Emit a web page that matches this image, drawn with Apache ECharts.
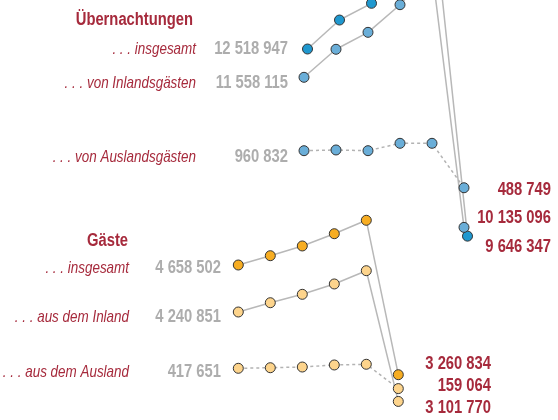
<!DOCTYPE html>
<html>
<head>
<meta charset="UTF-8">
<title>Übernachtungen und Gäste</title>
<script type="text/javascript" src="https://cdn.jsdelivr.net/npm/echarts@6/dist/echarts.min.js"></script>
<style>
  html, body { margin: 0; padding: 0; background: #fff; }
</style>
</head>
<body>
<div id="main" style="width: 558px; height: 420px"></div>
<script type="text/javascript">
// Daten
var years = ['2015', '2016', '2017', '2018', '2019', '2020'];
var uebInsgesamt = [12518947, 12888000, 13101000, 13538000, 13984000, 10135096];
var uebInland = [11558115, 11915000, 12131000, 12483000, 12929000, 9646347];
var uebAusland = [960832, 970000, 961000, 1055000, 1055000, 488749];
var gaesteInsgesamt = [4658502, 4777000, 4901000, 5057000, 5228000, 3260834];
var gaesteInland = [4240851, 4359000, 4466000, 4598000, 4767000, 3101770];
var gaesteAusland = [417651, 425000, 434000, 460000, 469000, 159064];

var groupTitles = ['Übernachtungen', 'Gäste'];
var uebNames = ['. . . insgesamt', '. . . von Inlandsgästen', '. . . von Auslandsgästen'];
var gaesteNames = ['. . . insgesamt', '. . . aus dem Inland', '. . . aus dem Ausland'];

// Layout: jede Linie hat ihr eigenes Raster, gleicher Maßstab, anderer Versatz
var PX_PER_MIO = 78.5;
var H = 420;
var FONT = "'Liberation Sans', Arial, sans-serif";
var RED = '#a62a3c';
var GRAY = '#adadad';

var lines = [
  {data: uebInsgesamt, left: 307.5, y0: 49, color: '#1f98cf', dashed: false},
  {data: uebInland, left: 304, y0: 77.3, color: '#6aaed8', dashed: false},
  {data: uebAusland, left: 304, y0: 150.7, color: '#6aaed8', dashed: true},
  {data: gaesteInsgesamt, left: 238.3, y0: 265, color: '#f7ad22', dashed: false},
  {data: gaesteInland, left: 238.3, y0: 312, color: '#fdd48c', dashed: false},
  {data: gaesteAusland, left: 238.3, y0: 368.3, color: '#fdd48c', dashed: true}
];

function fmt(v) {
  return String(v).replace(/\B(?=(\d{3})+(?!\d))/g, ' ');
}

var grids = [], xAxes = [], yAxes = [], series = [];
lines.forEach(function (l, i) {
  var max = l.data[0] + l.y0 / PX_PER_MIO * 1e6;
  var min = max - H / PX_PER_MIO * 1e6;
  grids.push({left: l.left, top: 0, width: 160, height: H});
  xAxes.push({type: 'category', gridIndex: i, data: years, boundaryGap: false, show: false});
  yAxes.push({type: 'value', gridIndex: i, min: min, max: max, show: false, splitLine: {show: false}});
  series.push({
    type: 'line',
    xAxisIndex: i,
    yAxisIndex: i,
    data: l.data,
    symbol: 'circle',
    symbolSize: 10,
    showAllSymbol: true,
    itemStyle: {color: l.color, borderColor: '#333', borderWidth: 1},
    lineStyle: {color: l.dashed ? '#b3b3b3' : '#b8b8b8', width: 1.5, type: l.dashed ? [3, 3] : 'solid'},
    z: 2
  });
});

// schmale Schrift nachbilden: horizontal gestaucht, rechtsbündig
function txt(text, x, y, font, fill, sx) {
  return {
    type: 'text',
    x: x, y: y,
    scaleX: sx,
    style: {
      text: text, x: 0, y: 0, font: font, fill: fill,
      textAlign: 'right', textVerticalAlign: 'middle',
      align: 'right', verticalAlign: 'middle'
    }
  };
}

var bold = 'bold 18px ' + FONT;
var ital = 'italic 17px ' + FONT;
var SB = 0.82, SI = 0.79;
var graphic = [
  txt(groupTitles[0], 193, 20, bold, RED, SB),
  txt(uebNames[0], 196, 49, ital, RED, SI),
  txt(fmt(uebInsgesamt[0]), 288, 49, bold, GRAY, SB),
  txt(uebNames[1], 196, 83, ital, RED, SI),
  txt(fmt(uebInland[0]), 288, 83, bold, GRAY, SB),
  txt(uebNames[2], 196, 157, ital, RED, SI),
  txt(fmt(uebAusland[0]), 288, 157, bold, GRAY, SB),
  txt(fmt(uebAusland[5]), 551, 190, bold, RED, SB),
  txt(fmt(uebInsgesamt[5]), 551, 218, bold, RED, SB),
  txt(fmt(uebInland[5]), 551, 247, bold, RED, SB),

  txt(groupTitles[1], 128, 241, bold, RED, SB),
  txt(gaesteNames[0], 129, 268, ital, RED, SI),
  txt(fmt(gaesteInsgesamt[0]), 221, 268, bold, GRAY, SB),
  txt(gaesteNames[1], 129, 317, ital, RED, SI),
  txt(fmt(gaesteInland[0]), 221, 317, bold, GRAY, SB),
  txt(gaesteNames[2], 129, 372, ital, RED, SI),
  txt(fmt(gaesteAusland[0]), 221, 372, bold, GRAY, SB),
  txt(fmt(gaesteInsgesamt[5]), 491, 364, bold, RED, SB),
  txt(fmt(gaesteAusland[5]), 491, 386, bold, RED, SB),
  txt(fmt(gaesteInland[5]), 491, 408, bold, RED, SB)
];

var myChart = echarts.init(document.getElementById('main'), null, {renderer: 'canvas'});
myChart.setOption({
  animation: false,
  backgroundColor: '#fff',
  grid: grids,
  xAxis: xAxes,
  yAxis: yAxes,
  series: series,
  graphic: graphic
});
</script>
</body>
</html>
